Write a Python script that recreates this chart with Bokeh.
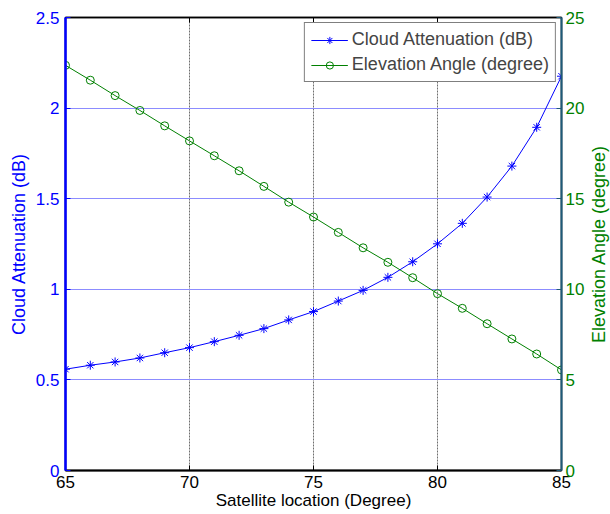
import math

from bokeh.plotting import figure
from bokeh.layouts import row
from bokeh.models import Range1d, LinearAxis, FixedTicker, Legend, LegendItem
from bokeh.core.properties import value
from bokeh.embed import file_html
from bokeh.resources import INLINE

# Satellite orbital location (degree) and the two quantities plotted against it
location = list(range(65, 86))
cloud_attenuation = [0.559, 0.581, 0.599, 0.621, 0.650, 0.678, 0.711, 0.746,
                     0.783, 0.831, 0.877, 0.935, 0.994, 1.066, 1.152, 1.251,
                     1.364, 1.509, 1.680, 1.894, 2.176]
elevation_angle = [22.36, 21.54, 20.69, 19.87, 19.02, 18.19, 17.37, 16.54,
                   15.68, 14.81, 13.99, 13.14, 12.29, 11.49, 10.64, 9.76,
                   8.95, 8.10, 7.26, 6.43, 5.55]

x_ticks = [65, 70, 75, 80, 85]
left_ticks = [0, 0.5, 1, 1.5, 2, 2.5]
right_ticks = [0, 5, 10, 15, 20, 25]
right_title = "Elevation Angle (degree)"

FONT = "Liberation Sans"
BLUE = "#0000ff"
GREEN = "#008000"
RIGHT_AXIS = "#1e5a78"
TOP, BOTTOM = 17, 44

p = figure(width=587, height=514, x_range=Range1d(65, 85),
           y_range=Range1d(0, 2.5), output_backend="svg",
           toolbar_location=None, min_border_left=65, min_border_right=25,
           min_border_top=TOP, min_border_bottom=BOTTOM)
p.extra_y_ranges = {"angle": Range1d(0, 25)}
p.background_fill_color = "white"
p.border_fill_color = "white"
p.outline_line_color = "black"
p.outline_line_width = 1.5

# bottom axis
xa = p.xaxis[0]
xa.ticker = FixedTicker(ticks=x_ticks)
xa.axis_line_color = "black"
xa.axis_line_width = 2
xa.major_tick_in = 5
xa.major_tick_out = 0
xa.minor_tick_line_color = None
xa.major_tick_line_color = "black"
xa.major_label_text_font = FONT
xa.major_label_text_font_size = "17px"
xa.major_label_text_color = "black"
xa.major_label_standoff = 5
xa.axis_label = "Satellite location (Degree)"
xa.axis_label_text_font = FONT
xa.axis_label_text_font_size = "17px"
xa.axis_label_text_font_style = "normal"
xa.axis_label_text_color = "black"
xa.axis_label_standoff = 0

# left axis
ya = p.yaxis[0]
ya.ticker = FixedTicker(ticks=left_ticks)
ya.axis_line_color = BLUE
ya.axis_line_width = 2.5
ya.major_tick_in = 5
ya.major_tick_out = 0
ya.minor_tick_line_color = None
ya.major_tick_line_color = BLUE
ya.major_label_text_font = FONT
ya.major_label_text_font_size = "17px"
ya.major_label_text_color = BLUE
ya.major_label_standoff = 6
ya.axis_label = "Cloud Attenuation (dB)"
ya.axis_label_text_font = FONT
ya.axis_label_text_font_size = "18px"
ya.axis_label_text_font_style = "normal"
ya.axis_label_text_color = BLUE
ya.axis_label_standoff = 4

# right axis for the elevation angle
ra = LinearAxis(y_range_name="angle", ticker=FixedTicker(ticks=right_ticks),
                axis_line_color=RIGHT_AXIS, axis_line_width=2,
                major_tick_in=5, major_tick_out=0,
                major_tick_line_color=RIGHT_AXIS, minor_tick_line_color=None,
                major_label_text_font=FONT, major_label_text_font_size="17px",
                major_label_text_color=GREEN, major_label_standoff=4)
p.add_layout(ra, "right")

# top edge ticks (box), no labels
ta = LinearAxis(ticker=FixedTicker(ticks=x_ticks), axis_line_color="black",
                axis_line_width=1.5, major_tick_in=5, major_tick_out=0,
                major_tick_line_color="black", minor_tick_line_color=None,
                major_label_text_font_size="1px", major_label_text_color=None,
                major_label_standoff=0)
p.add_layout(ta, "above")

# grid lines
p.xgrid.ticker = FixedTicker(ticks=x_ticks)
p.xgrid.grid_line_color = "#6e6e6e"
p.xgrid.grid_line_width = 1
p.xgrid.grid_line_dash = "2 1"
p.ygrid.ticker = FixedTicker(ticks=left_ticks)
p.ygrid.grid_line_color = "#8c8cff"
p.ygrid.grid_line_width = 1

# series
l1 = p.line(location, cloud_attenuation, line_color=BLUE, line_width=1)
m1 = p.scatter(location, cloud_attenuation, marker="asterisk", size=9,
               line_color=BLUE, line_width=1)
l2 = p.line(location, elevation_angle, line_color=GREEN, line_width=1,
            y_range_name="angle")
m2 = p.scatter(location, elevation_angle, marker="circle", size=8,
               line_color=GREEN, fill_color=None, line_width=1,
               y_range_name="angle")

legend = Legend(items=[
    LegendItem(label="Cloud Attenuation (dB)", renderers=[l1, m1]),
    LegendItem(label="Elevation Angle (degree)", renderers=[l2, m2]),
], location="top_right")
legend.border_line_color = "black"
legend.border_line_width = 1.5
legend.background_fill_alpha = 1
legend.label_text_font = FONT
legend.label_text_font_size = "18px"
legend.glyph_width = 37
legend.glyph_height = 18
legend.label_height = 18
legend.label_standoff = 4
legend.padding = 6
legend.spacing = 4
legend.margin = 5
p.add_layout(legend)

# narrow strip on the right carrying the right-hand axis title (bottom-to-top)
side = figure(width=23, height=514, x_range=Range1d(0, 1), y_range=Range1d(0, 1),
              output_backend="svg", toolbar_location=None,
              x_axis_location=None, y_axis_location=None,
              min_border_left=0, min_border_right=0,
              min_border_top=TOP, min_border_bottom=BOTTOM)
side.outline_line_color = None
side.xgrid.visible = False
side.ygrid.visible = False
side.background_fill_color = "white"
side.border_fill_color = "white"
side.text(x=[0.5], y=[0.5], text=[right_title], angle=math.pi / 2,
          text_font=value(FONT), text_font_size="18px", text_color=GREEN,
          text_align="center", text_baseline="middle")

layout = row(p, side, spacing=0)

open("out.html", "w").write(file_html(layout, INLINE))
